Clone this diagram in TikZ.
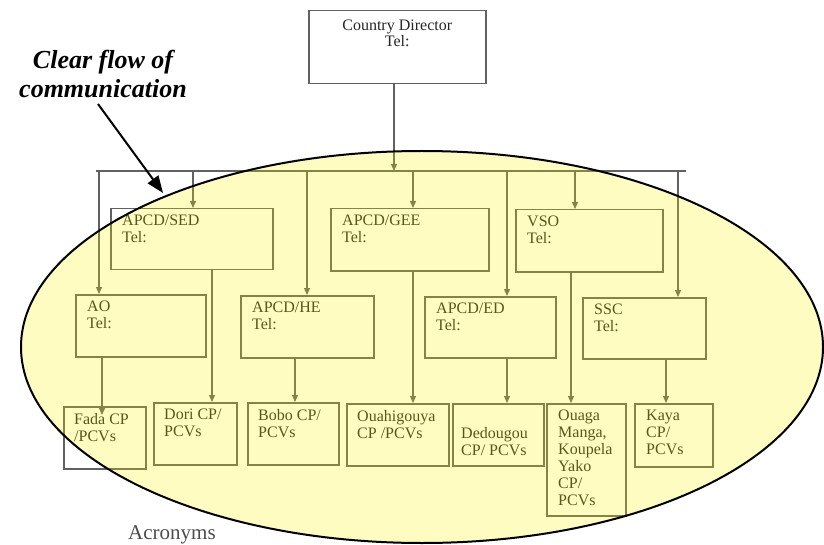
\documentclass[tikz,border=0pt]{standalone}
\usepackage{fontspec}
\setmainfont{Liberation Serif}
\usetikzlibrary{arrows.meta,calc}
\definecolor{linegray}{gray}{0.38}
\definecolor{txtgray}{gray}{0.15}
\definecolor{acrogray}{gray}{0.30}
\begin{document}
\begin{tikzpicture}[x=1pt,y=-1pt,
  box/.style={draw=linegray, line width=1.5pt, inner sep=0pt, anchor=north west},
  boxtxt/.style={anchor=north west, inner sep=0pt, align=left, text=txtgray, font=\fontsize{16}{17}\selectfont},
  conn/.style={draw=linegray, line width=1.3pt},
  arr/.style={conn, -{Triangle[length=7pt,width=6pt]}},
  flowarrow/.style={draw=black, line width=2pt, -{Triangle[length=17pt,width=13pt]}},
]
\useasboundingbox (0,0) rectangle (824,545);

% ---- boxes ----
\node[box, minimum width=177pt, minimum height=73pt] (cd) at (308,10) {};
\node[box, minimum width=162pt, minimum height=61pt] (sed) at (110,208) {};
\node[box, minimum width=158pt, minimum height=62pt] (gee) at (330,208) {};
\node[box, minimum width=147pt, minimum height=62pt] (vso) at (515,209) {};
\node[box, minimum width=130pt, minimum height=62pt] (ao) at (75,294) {};
\node[box, minimum width=133pt, minimum height=62pt] (he) at (240,295) {};
\node[box, minimum width=131pt, minimum height=61pt] (ed) at (424,296) {};
\node[box, minimum width=123pt, minimum height=61pt] (ssc) at (582,297) {};
\node[box, minimum width=82pt, minimum height=62pt] (fada) at (63,406) {};
\node[box, minimum width=83pt, minimum height=62pt] (dori) at (153,402) {};
\node[box, minimum width=91pt, minimum height=62pt] (bobo) at (247,402) {};
\node[box, minimum width=102pt, minimum height=62pt] (ouah) at (346,403) {};
\node[box, minimum width=91pt, minimum height=62pt] (ded) at (452,403) {};
\node[box, minimum width=79pt, minimum height=112pt] (ouaga) at (546,403) {};
\node[box, minimum width=78pt, minimum height=63pt] (kaya) at (634,403) {};

% ---- texts ----
\node[boxtxt, anchor=north, align=center, font=\fontsize{16}{16}\selectfont] (cdt) at ($(cd.north)+(0,10)$) {Country Director\\Tel:};
\node[boxtxt] (sedt) at ($(sed.north west)+(12,7)$) {APCD/SED\\Tel:};
\node[boxtxt] (geet) at ($(gee.north west)+(12,7)$) {APCD/GEE\\Tel:};
\node[boxtxt] (vsot) at ($(vso.north west)+(12,7)$) {VSO\\Tel:};
\node[boxtxt] (aot) at ($(ao.north west)+(12,7)$) {AO\\Tel:};
\node[boxtxt] (het) at ($(he.north west)+(12,7)$) {APCD/HE\\Tel:};
\node[boxtxt] (edt) at ($(ed.north west)+(12,7)$) {APCD/ED\\Tel:};
\node[boxtxt] (ssct) at ($(ssc.north west)+(12,7)$) {SSC\\Tel:};
\node[boxtxt] (fadat) at ($(fada.north west)+(11,7)$) {Fada CP\\/PCVs};
\node[boxtxt] (dorit) at ($(dori.north west)+(11,7)$) {Dori CP/\\PCVs};
\node[boxtxt] (bobot) at ($(bobo.north west)+(11,7)$) {Bobo CP/\\PCVs};
\node[boxtxt] (ouaht) at ($(ouah.north west)+(11,7)$) {Ouahigouya\\CP /PCVs};
\node[boxtxt] (dedt) at ($(ded.north west)+(9,24)$) {Dedougou\\CP/ PCVs};
\node[boxtxt] (ouagat) at ($(ouaga.north west)+(12,7)$) {Ouaga\\Manga,\\Koupela\\Yako\\CP/\\PCVs};
\node[boxtxt] (kayat) at ($(kaya.north west)+(12,7)$) {Kaya\\CP/\\PCVs};

% ---- connectors ----
\coordinate (bcd) at (394,171);
\coordinate (busL) at (96,171);
\coordinate (busR) at (686,171);
\draw[arr] (bcd |- cd.south) -- (bcd);
\draw[conn] (busL) -- (busR);
\coordinate (t1) at (99,171);
\coordinate (t2) at (193,171);
\coordinate (t3) at (307,171);
\coordinate (t4) at (413,171);
\coordinate (t5) at (507,171);
\coordinate (t6) at (575,171);
\coordinate (t7) at (678,171);
\draw[arr] (t1) -- (t1 |- ao.north);
\draw[arr] (t2) -- (t2 |- sed.north);
\draw[arr] (t3) -- (t3 |- he.north);
\draw[arr] (t4) -- (t4 |- gee.north);
\draw[arr] (t5) -- (t5 |- ed.north);
\draw[arr] (t6) -- (t6 |- vso.north);
\draw[arr] (t7) -- (t7 |- ssc.north);

\coordinate (s1) at (102,0);
\coordinate (s2) at (212,0);
\coordinate (s3) at (295,0);
\coordinate (s4) at (413,0);
\coordinate (s5) at (507,0);
\coordinate (s6) at (571,0);
\coordinate (s7) at (666,0);
\draw[arr] (s1 |- ao.south) -- ($(s1 |- fada.north)+(0,9)$);
\draw[arr] (s2 |- sed.south) -- (s2 |- dori.north);
\draw[arr] (s3 |- he.south) -- (s3 |- bobo.north);
\draw[arr] (s4 |- gee.south) -- (s4 |- ouah.north);
\draw[arr] (s5 |- ed.south) -- (s5 |- ded.north);
\draw[arr] (s6 |- vso.south) -- (s6 |- ouaga.north);
\draw[arr] (s7 |- ssc.south) -- (s7 |- kaya.north);

% ---- highlight ellipse ----
\fill[yellow, fill opacity=0.24] (422,347) ellipse (401 and 196);
\draw[black, line width=2pt] (422,347) ellipse (401 and 196);

% ---- annotation ----
\node[anchor=north, inner sep=0pt, align=center,
      font=\fontsize{26}{29}\selectfont\bfseries\itshape] (cf) at (103,50) {Clear flow of\\communication};
\coordinate (ca1) at (98,104);
\coordinate (ca2) at (163,193);
\draw[flowarrow] (ca1) -- (ca2);

\node[anchor=base west, inner sep=0pt, text=acrogray, font=\fontsize{21}{24}\selectfont] (acro) at (128,539) {Acronyms};
\end{tikzpicture}
\end{document}
